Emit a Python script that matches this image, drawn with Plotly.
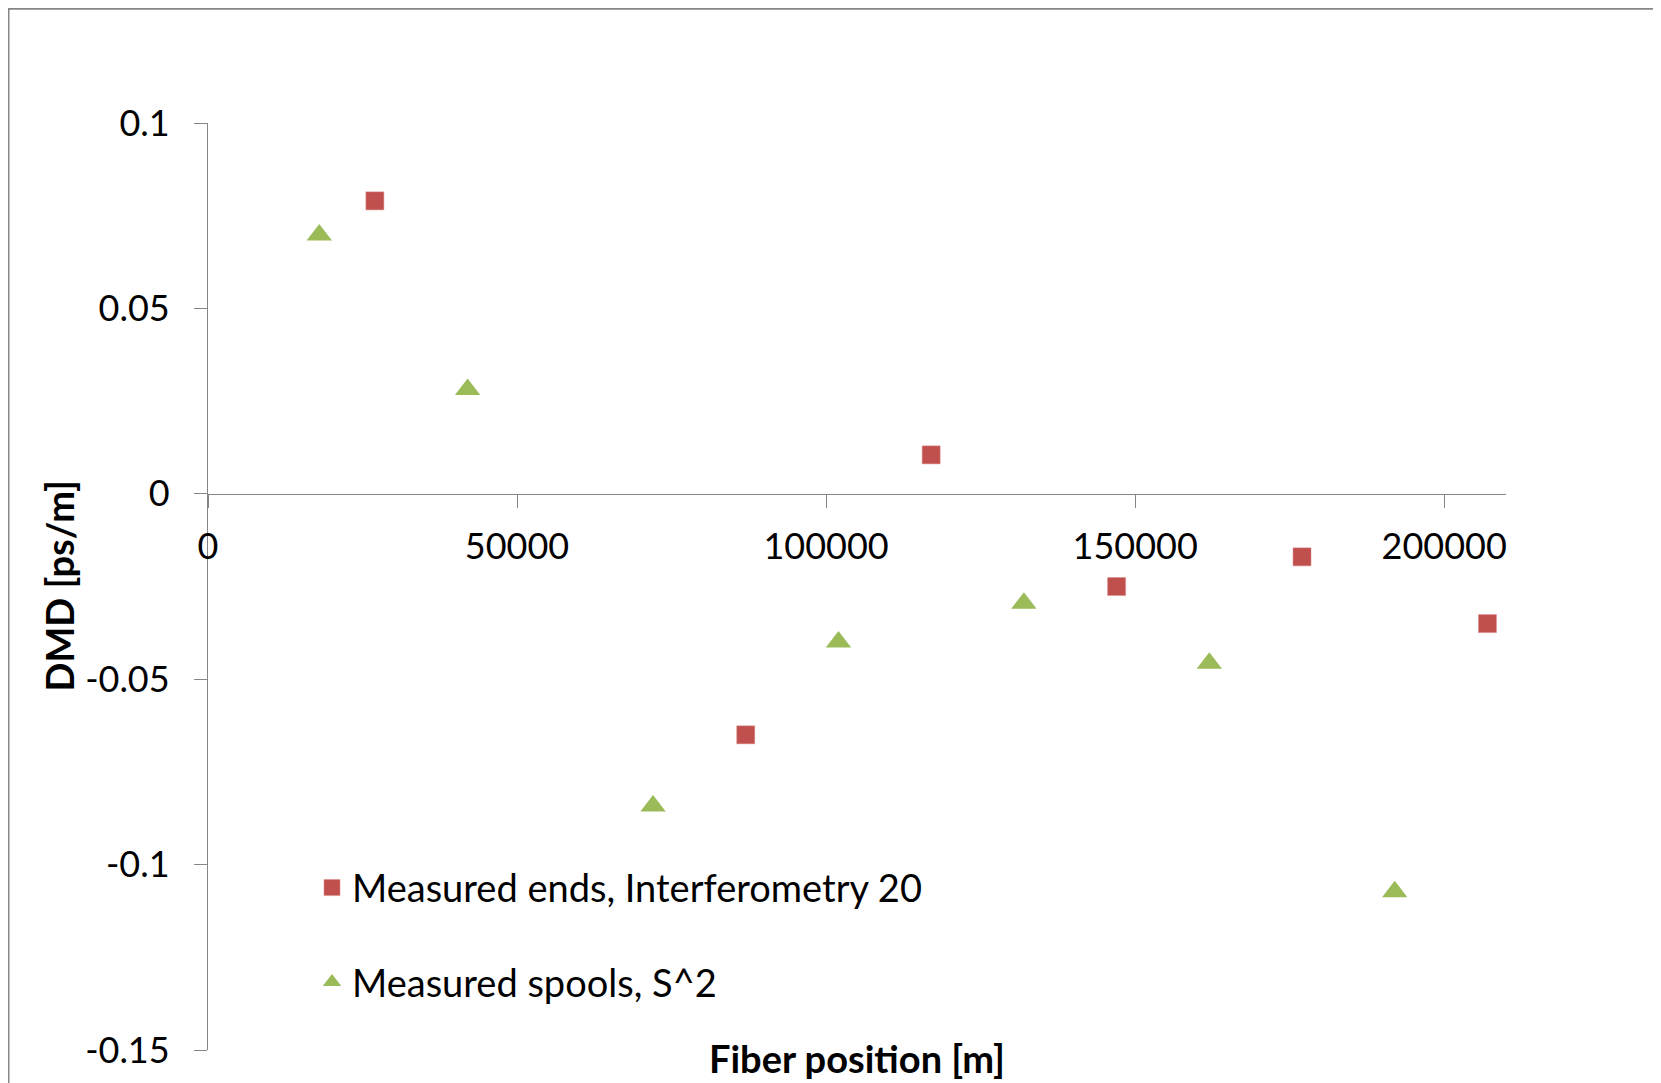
import plotly.graph_objects as go

# Data
ends_x = [27000, 87000, 117000, 147000, 177000, 207000]
ends_y = [0.079, -0.065, 0.0105, -0.025, -0.017, -0.035]
spools_x = [18000, 42000, 72000, 102000, 132000, 162000, 192000]
spools_y = [0.0698, 0.0281, -0.0842, -0.0400, -0.0295, -0.0457, -0.1073]

ends_name = "Measured ends, Interferometry 20"
spools_name = "Measured spools, S^2"

x_tickvals = [0, 50000, 100000, 150000, 200000]
x_ticktext = ["0", "50000", "100000", "150000", "200000"]
y_tickvals = [0.1, 0.05, 0, -0.05, -0.1, -0.15]
y_ticktext = ["0.1", "0.05", "0", "-0.05", "-0.1", "-0.15"]

RED = "#C0504D"
GREEN = "#9BBB59"
AXIS = "#868686"
FONT = "Lato"

# page has an 8px body margin; figure sized to fit the window
W, H = 1653, 1075
L, R, T, B = 200, 155, 115, 31
pw, ph = W - L - R, H - T - B

def px_to_paper_x(px):
    return (px - L) / pw

def px_to_paper_y(py):
    return (H - B - py) / ph

fig = go.Figure()
fig.add_trace(go.Scatter(
    x=ends_x, y=ends_y, mode="markers", name=ends_name, showlegend=False,
    marker=dict(symbol="square", size=18, color=RED, line=dict(width=0.5, color="#d88"))
))
fig.add_trace(go.Scatter(
    x=spools_x, y=spools_y, mode="markers", name=spools_name, showlegend=False,
    marker=dict(symbol="triangle-up", size=22, color=GREEN, line=dict(width=0))
))
# legend entries (same series, legend-sized markers)
fig.add_trace(go.Scatter(
    x=[None], y=[None], mode="markers", name=ends_name, legendgroup="a",
    marker=dict(symbol="square", size=16, color=RED, line=dict(width=0.5, color="#d88"))
))
fig.add_trace(go.Scatter(
    x=[None], y=[None], mode="markers", name=spools_name, legendgroup="b",
    marker=dict(symbol="triangle-up", size=16, color=GREEN, line=dict(width=0))
))

fig.update_layout(
    width=W, height=H,
    margin=dict(l=L, r=R, t=T, b=B),
    paper_bgcolor="white", plot_bgcolor="white",
    font=dict(family=FONT, size=36, color="black"),
    showlegend=True,
    legend=dict(
        x=px_to_paper_x(304), y=px_to_paper_y(850), xanchor="left", yanchor="top",
        font=dict(family=FONT, size=38, color="black"),
        tracegroupgap=42, bgcolor="rgba(0,0,0,0)", borderwidth=0,
    ),
    xaxis=dict(
        range=[0, 210000], showgrid=False, zeroline=False,
        showline=True, linecolor=AXIS, linewidth=1.3,
        anchor="free", position=0.6,
        ticks="outside", ticklen=13, tickcolor=AXIS, tickwidth=1.3,
        tickvals=x_tickvals, ticktext=x_ticktext,
        ticklabelstandoff=8,
        tickfont=dict(family=FONT, size=36, color="black"),
    ),
    yaxis=dict(
        range=[-0.15, 0.1], showgrid=False, zeroline=False,
        showline=True, linecolor=AXIS, linewidth=1.3,
        ticks="outside", ticklen=13, tickcolor=AXIS, tickwidth=1.3,
        tickvals=y_tickvals, ticktext=y_ticktext,
        ticklabelstandoff=17,
        tickfont=dict(family=FONT, size=36, color="black"),
    ),
    annotations=[
        dict(text="<b>Fiber position [m]</b>", xref="paper", yref="paper",
             x=0.5, y=px_to_paper_y(1052), xanchor="center", yanchor="middle",
             showarrow=False, font=dict(family=FONT, size=38, color="black")),
        dict(text="<b>DMD [ps/m]</b>", xref="paper", yref="paper",
             x=px_to_paper_x(50), y=0.5, xanchor="center", yanchor="middle",
             textangle=-90, showarrow=False,
             font=dict(family=FONT, size=38, color="black")),
    ],
    shapes=[
        dict(type="rect", xref="paper", yref="paper",
             x0=px_to_paper_x(0), y0=-1, x1=2, y1=px_to_paper_y(0),
             line=dict(color=AXIS, width=3), fillcolor="rgba(0,0,0,0)", layer="below"),
    ],
)

fig.write_html("out.html")
